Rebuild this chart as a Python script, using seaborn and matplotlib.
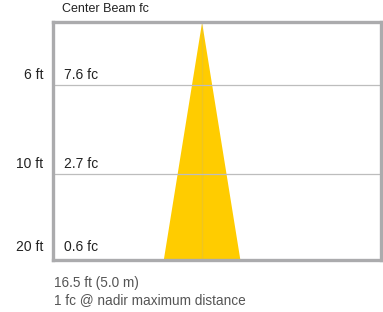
import matplotlib
matplotlib.use("Agg")
import matplotlib.pyplot as plt
import seaborn as sns
import pandas as pd

# ---- data ----
title = "Center Beam fc"
distance_labels = ["6 ft", "10 ft", "20 ft"]
fc_labels = ["7.6 fc", "2.7 fc", "0.6 fc"]
row_depth = [0.266, 0.637, 1.0]          # relative depth of each row (0 = fixture, 1 = floor)
beam_depth = [0.0, 1.0]
beam_half_width = [0.0, 0.117]           # beam half-spread at each depth (axis units)
footer_lines = ["16.5 ft (5.0 m)", "1 fc @ nadir maximum distance"]

beam = pd.DataFrame({"depth": beam_depth, "half": beam_half_width})

sns.set_style("white")
plt.rcParams['font.family'] = ['Liberation Sans', 'DejaVu Sans']

W, H = 383, 312
fig = plt.figure(figsize=(W / 100, H / 100), dpi=100)
ax = fig.add_axes([53 / W, 52 / H, 328 / W, 238 / H])

ax.fill_betweenx(beam["depth"], -beam["half"], beam["half"], color="#FFCC00", lw=0, zorder=1)
sns.lineplot(x=[0, 0], y=[0, 1], ax=ax, color="#ABABAB", lw=1.4, zorder=3)
for d in row_depth[:-1]:
    ax.axhline(d, color="#BDBDBD", lw=0.9, zorder=2)

ax.set_xlim(-0.453, 0.547)
ax.set_ylim(1, 0)
ax.set_xticks([])
ax.set_yticks([])
ax.set_xlabel("")
ax.set_ylabel("")
for s in ax.spines.values():
    s.set_visible(True)
    s.set_color("#ABABAD")
    s.set_linewidth(2.4)

offsets_px = [10, 10, 13]
for d, dl, fl, off in zip(row_depth, distance_labels, fc_labels, offsets_px):
    ax.annotate(dl, xy=(0, d), xycoords=("axes fraction", "data"),
                xytext=(-10 * 0.72, off * 0.72), textcoords="offset points",
                ha="right", va="center", fontsize=10, color="#222222")
    ax.annotate(fl, xy=(0, d), xycoords=("axes fraction", "data"),
                xytext=(11 * 0.72, off * 0.72), textcoords="offset points",
                ha="left", va="center", fontsize=10, color="#222222")

fig.text(62 / W, 1 - 9.5 / H, title, ha="left", va="center", fontsize=9, color="#222222")
fig.text(54 / W, 1 - 283 / H, footer_lines[0], ha="left", va="center", fontsize=9.8, color="#555555")
fig.text(54 / W, 1 - 300 / H, footer_lines[1], ha="left", va="center", fontsize=9.8, color="#555555")

fig.savefig("out.png", dpi=100)
